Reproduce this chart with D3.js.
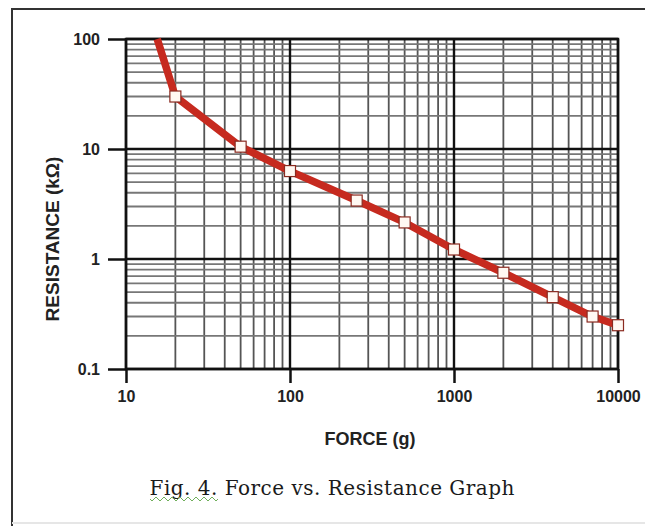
<!DOCTYPE html>
<html>
<head>
<meta charset="utf-8">
<script src="https://cdn.jsdelivr.net/npm/d3@7"></script>
<style>
  body { margin: 0; background: #fff; }
  svg { display: block; }
</style>
</head>
<body>
<div id="vis-holder"></div>
<script>
// Data
const force = [15.5, 20, 50, 100, 255, 500, 1000, 2000, 4000, 7000, 10000];
const resistance = [100, 30, 10.5, 6.3, 3.4, 2.15, 1.22, 0.75, 0.45, 0.3, 0.25];
const xTicks = [10, 100, 1000, 10000];
const yTicks = [0.1, 1, 10, 100];
const xLabel = "FORCE (g)";
const yLabel = "RESISTANCE (kΩ)";
const caption = "Fig. 4. Force vs. Resistance Graph";

const width = 645;
const height = 526;
const margin = { top: 39, right: 27, bottom: 157, left: 126 };

const svg = d3.select("#vis-holder")
  .append("svg")
  .attr("width", width)
  .attr("height", height);

// outer frame (left + top lines, faint bottom)
svg.append("line").attr("x1", 12).attr("x2", 12).attr("y1", 8).attr("y2", height)
  .attr("stroke", "#333").attr("stroke-width", 2);
svg.append("line").attr("x1", 11).attr("x2", width).attr("y1", 9).attr("y2", 9)
  .attr("stroke", "#333").attr("stroke-width", 2);
svg.append("line").attr("x1", 12).attr("x2", width).attr("y1", 523).attr("y2", 523)
  .attr("stroke", "#e6e6e6").attr("stroke-width", 2);

const x = d3.scaleLog()
  .domain([10, 10000])
  .range([margin.left, width - margin.right]);

const y = d3.scaleLog()
  .domain([0.1, 100])
  .range([height - margin.bottom, margin.top]);

// minor grid values (2..9 in each decade)
let minorX = [];
let minorY = [];
for (let d = 0; d < 3; d++) {
  for (let k = 2; k <= 9; k++) {
    minorX.push(k * Math.pow(10, d + 1));
    minorY.push(k * Math.pow(10, d - 1));
  }
}

const grid = svg.append("g");

grid.selectAll(".vminor")
  .data(minorX)
  .enter()
  .append("line")
  .attr("x1", (d) => x(d)).attr("x2", (d) => x(d))
  .attr("y1", y(100)).attr("y2", y(0.1))
  .attr("stroke", "#555")
  .attr("stroke-width", 1.8);

grid.selectAll(".hminor")
  .data(minorY)
  .enter()
  .append("line")
  .attr("x1", x(10)).attr("x2", x(10000))
  .attr("y1", (d) => y(d)).attr("y2", (d) => y(d))
  .attr("stroke", "#777")
  .attr("stroke-width", 1.8);

grid.selectAll(".vmajor")
  .data(xTicks)
  .enter()
  .append("line")
  .attr("x1", (d) => x(d)).attr("x2", (d) => x(d))
  .attr("y1", y(100)).attr("y2", y(0.1))
  .attr("stroke", "#111")
  .attr("stroke-width", 2.4);

grid.selectAll(".hmajor")
  .data(yTicks)
  .enter()
  .append("line")
  .attr("x1", x(10)).attr("x2", x(10000))
  .attr("y1", (d) => y(d)).attr("y2", (d) => y(d))
  .attr("stroke", "#111")
  .attr("stroke-width", 2.4);

// axes
svg.append("g")
  .attr("transform", `translate(0,${height - margin.bottom})`)
  .call(d3.axisBottom(x).tickValues(xTicks).tickFormat(d3.format("d")).tickSize(14).tickPadding(8))
  .call((g) => g.select(".domain").remove())
  .call((g) => g.selectAll("line").attr("stroke", "#111").attr("stroke-width", 2.5))
  .call((g) => g.selectAll("text")
    .attr("font-family", "Liberation Sans, Arial, sans-serif")
    .attr("font-weight", "bold")
    .attr("font-size", "16px")
    .attr("fill", "#222"));

svg.append("g")
  .attr("transform", `translate(${margin.left},0)`)
  .call(d3.axisLeft(y).tickValues(yTicks).tickFormat((d) => d === 0.1 ? "0.1" : d3.format("d")(d)).tickSize(18).tickPadding(8))
  .call((g) => g.select(".domain").remove())
  .call((g) => g.selectAll("line").attr("stroke", "#111").attr("stroke-width", 2.5))
  .call((g) => g.selectAll("text")
    .attr("font-family", "Liberation Sans, Arial, sans-serif")
    .attr("font-weight", "bold")
    .attr("font-size", "16px")
    .attr("fill", "#222"));

// plot frame
svg.append("rect")
  .attr("x", x(10)).attr("y", y(100))
  .attr("width", x(10000) - x(10))
  .attr("height", y(0.1) - y(100))
  .attr("fill", "none")
  .attr("stroke", "#111")
  .attr("stroke-width", 2.5);

// curve
const pts = force.map((f, i) => [f, resistance[i]]);

svg.append("path")
  .datum(pts)
  .attr("fill", "none")
  .attr("stroke", "#c62a1f")
  .attr("stroke-width", 7.5)
  .attr("stroke-linejoin", "round")
  .attr("d", d3.line().x((d) => x(d[0])).y((d) => y(d[1])));

svg.selectAll(".mark")
  .data(pts.slice(1))
  .enter()
  .append("rect")
  .attr("x", (d) => x(d[0]) - 5.5)
  .attr("y", (d) => y(d[1]) - 5.5)
  .attr("width", 11)
  .attr("height", 11)
  .attr("fill", "#fff8f2")
  .attr("stroke", "#8a2a20")
  .attr("stroke-width", 1.2);

// axis titles
svg.append("text")
  .attr("x", 370)
  .attr("y", 445)
  .attr("text-anchor", "middle")
  .attr("font-family", "Liberation Sans, Arial, sans-serif")
  .attr("font-weight", "bold")
  .attr("font-size", "18px")
  .attr("fill", "#222")
  .text(xLabel);

svg.append("text")
  .attr("transform", "translate(59,239) rotate(-90)")
  .attr("text-anchor", "middle")
  .attr("font-family", "Liberation Sans, Arial, sans-serif")
  .attr("font-weight", "bold")
  .attr("font-size", "19px")
  .attr("fill", "#222")
  .text(yLabel);

// caption
svg.append("text")
  .attr("x", 332)
  .attr("y", 495)
  .attr("text-anchor", "middle")
  .attr("font-family", "DejaVu Serif, serif")
  .attr("font-size", "20px")
  .attr("fill", "#1a1a1a")
  .attr("textLength", 365)
  .text(caption);

// spell-check squiggle under "Fig. 4."
let sq = "M150,499";
for (let i = 0; i < 17; i++) {
  sq += ` l2,${i % 2 === 0 ? 2 : -2} l2,${i % 2 === 0 ? -2 : 2}`;
}
svg.append("path")
  .attr("d", sq)
  .attr("fill", "none")
  .attr("stroke", "#6fae5a")
  .attr("stroke-width", 1);
</script>
</body>
</html>
